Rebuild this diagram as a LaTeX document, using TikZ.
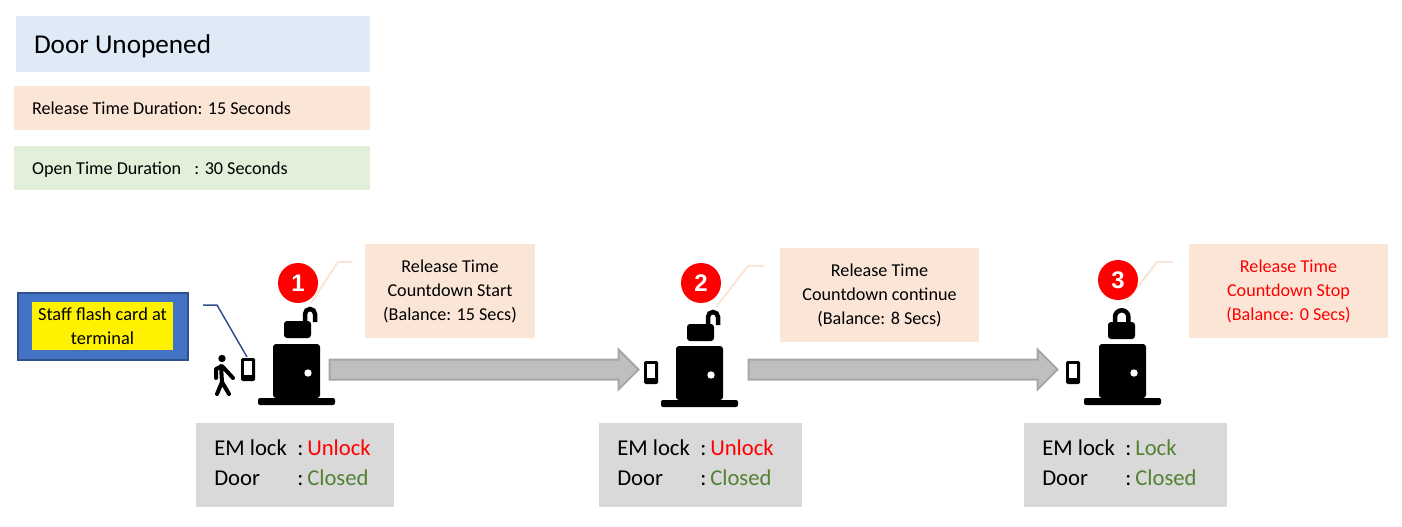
\documentclass[tikz,border=0pt]{standalone}
\usepackage{fontspec}
\setmainfont{Carlito}
\newfontfamily\numfont{Liberation Sans}
\usetikzlibrary{shapes.arrows}
\newcommand{\pxl}{0.75pt}
\definecolor{titleblue}{HTML}{DEEAF6}
\definecolor{peach}{HTML}{FBE5D6}
\definecolor{palegreen}{HTML}{E2F0D9}
\definecolor{panelgrey}{HTML}{D9D9D9}
\definecolor{okgreen}{HTML}{548235}
\definecolor{cardblue}{HTML}{4472C4}
\definecolor{cardedge}{HTML}{2F528F}
\tikzstyle{infobox}=[inner ysep=0pt,inner xsep=18*\pxl,align=flush left,text height=13.5pt,text depth=3pt,
                     font=\fontsize{13.6}{15}\selectfont]
\tikzstyle{notebox}=[fill=peach,inner sep=0pt,minimum height=94*\pxl,align=flush center,
                     font=\fontsize{13.6}{18}\selectfont]
\tikzstyle{panel}=[fill=panelgrey,inner sep=0pt,minimum height=84*\pxl]
\tikzstyle{rowtext}=[anchor=base west,inner sep=0pt,font=\fontsize{17}{18}\selectfont]
\tikzstyle{stepdot}=[circle,fill=red,inner sep=0pt,minimum size=40*\pxl,text=white,
                     font=\numfont\bfseries\fontsize{18}{18}\selectfont]
\tikzstyle{flowarrow}=[single arrow,draw=black!35,fill=black!25,line width=2*\pxl,
                       inner xsep=0pt,inner ysep=9*\pxl,minimum height=309*\pxl,
                       single arrow head extend=10*\pxl,single arrow tip angle=90]
\tikzstyle{leader}=[draw=peach,line width=2*\pxl]
\begin{document}
\begin{tikzpicture}[x=\pxl,y=-\pxl]
    \useasboundingbox (0,0) rectangle (1402,527);
    \newcommand{\doorunit}[2]{% left and top of the door leaf
      \fill[rounded corners=3*\pxl] (#1,#2+54) -- (#1,#2) -- (#1+47,#2) -- (#1+47,#2+54) -- cycle;
      \fill[rounded corners=2*\pxl] (#1-15,#2+54) rectangle (#1+62,#2+61);
      \fill[white] (#1+35,#2+29) circle (3.7*\pxl);
    }
    \newcommand{\lockbody}[2]{%
      \fill[rounded corners=3*\pxl] (#1,#2) rectangle (#1+27,#2+17);
    }
    \newcommand{\phone}[2]{%
      \fill[rounded corners=1.5*\pxl] (#1,#2) rectangle (#1+14,#2+23);
      \fill[white] (#1+3,#2+3) rectangle (#1+11,#2+17);
    }
    \newcommand{\openshackle}[2]{%
      \draw[line width=4.5*\pxl] (#1+21,#2+1) -- (#1+21,#2-7) arc (180:360:5) -- (#1+31,#2+1);
    }

    % top left boxes
    \node (title) at (193,44) [infobox,fill=titleblue,text width=318*\pxl,minimum height=56*\pxl,
                               text height=18pt,text depth=3pt,font=\fontsize{20.4}{22}\selectfont]{Door Unopened};
    \node (release) at (192,108) [infobox,fill=peach,text width=320*\pxl,minimum height=44*\pxl]
          {Release Time Duration: 15 Seconds};
    \node (opentime) at (192,168) [infobox,fill=palegreen,text width=320*\pxl,minimum height=44*\pxl]
          {Open Time Duration\hspace{10pt}: 30 Seconds};

    % card callout
    \node (cardbox) at (103,326.5) [draw=cardedge,fill=cardblue,line width=2*\pxl,
                                  minimum width=170*\pxl,minimum height=67*\pxl,inner sep=0pt]{};
    \node (cardtext) at (102.5,326) [fill=yellow,minimum width=141*\pxl,minimum height=48*\pxl,inner sep=0pt,
                                   align=flush center,font=\fontsize{13.8}{18}\selectfont]
          {Staff flash card at\\terminal};
    \coordinate (lead0a) at (203,305);
    \coordinate (lead0b) at (217,305);
    \coordinate (lead0c) at (247,357);
    \draw[cardedge,line width=1.5*\pxl] (lead0a) -- (lead0b) -- (lead0c);

    % person
    \fill (222,358.5) circle (3.7*\pxl);
    \draw[line width=4*\pxl,line cap=round,line join=round]
      (216,378) -- (216,369) -- (222,366) -- (233,378)
      (221,366) -- (222,382) -- (217,394)
      (222,382) -- (229,394);

    % doors
    \doorunit{273}{344}
    \doorunit{676}{346}
    \doorunit{1099}{344}
    \phone{241}{358}
    \phone{644}{361}
    \phone{1066}{361}
    \lockbody{284}{321}
    \openshackle{284}{321}
    \lockbody{687}{324}
    \openshackle{687}{324}
    \lockbody{1108}{322}
    \draw[line width=4.5*\pxl] (1115,324) -- (1115,317) arc (180:360:6.7) -- (1128.4,324);

    % block arrows
    \node (arrow1) at (479,369.5) [flowarrow]{};
    \node (arrow2) at (898,369.5) [flowarrow]{};

    % notes
    \node (note1) at (450,291) [notebox,minimum width=170*\pxl]
          {Release Time\\Countdown Start\\(Balance: 15 Secs)};
    \node (note2) at (879.5,295) [notebox,minimum width=199*\pxl]
          {Release Time\\Countdown continue\\(Balance: 8 Secs)};
    \node (note3) at (1288.5,291) [notebox,minimum width=199*\pxl,text=red]
          {Release Time\\Countdown Stop\\(Balance: 0 Secs)};

    \coordinate (lead1a) at (311,303);
    \coordinate (lead1b) at (338,262);
    \coordinate (lead1c) at (352,262);
    \coordinate (lead2a) at (716,307);
    \coordinate (lead2b) at (748,266);
    \coordinate (lead2c) at (764,266);
    \coordinate (lead3a) at (1125,303);
    \coordinate (lead3b) at (1157,262);
    \coordinate (lead3c) at (1173,262);
    \draw[leader] (lead1a) -- (lead1b) -- (lead1c);
    \draw[leader] (lead2a) -- (lead2b) -- (lead2c);
    \draw[leader] (lead3a) -- (lead3b) -- (lead3c);

    \node (dot1) at (298,283) [stepdot]{1};
    \node (dot2) at (701,283) [stepdot]{2};
    \node (dot3) at (1118,280) [stepdot]{3};

    % status panels
    \node (panel1) at (295,465) [panel,minimum width=198*\pxl]{};
    \node (panel2) at (700.5,465) [panel,minimum width=203*\pxl]{};
    \node (panel3) at (1125.5,465) [panel,minimum width=203*\pxl]{};

    \node (em1) at (214,455) [rowtext]{EM lock};
    \node (em1c) at (297,455) [rowtext]{:};
    \node (em1v) at (307,455) [rowtext,text=red]{Unlock};
    \node (door1) at (214,485) [rowtext]{Door};
    \node (door1c) at (297,485) [rowtext]{:};
    \node (door1v) at (307,485) [rowtext,text=okgreen]{Closed};

    \node (em2) at (617,455) [rowtext]{EM lock};
    \node (em2c) at (700,455) [rowtext]{:};
    \node (em2v) at (710,455) [rowtext,text=red]{Unlock};
    \node (door2) at (617,485) [rowtext]{Door};
    \node (door2c) at (700,485) [rowtext]{:};
    \node (door2v) at (710,485) [rowtext,text=okgreen]{Closed};

    \node (em3) at (1042,455) [rowtext]{EM lock};
    \node (em3c) at (1125,455) [rowtext]{:};
    \node (em3v) at (1135,455) [rowtext,text=okgreen]{Lock};
    \node (door3) at (1042,485) [rowtext]{Door};
    \node (door3c) at (1125,485) [rowtext]{:};
    \node (door3v) at (1135,485) [rowtext,text=okgreen]{Closed};
\end{tikzpicture}
\end{document}
